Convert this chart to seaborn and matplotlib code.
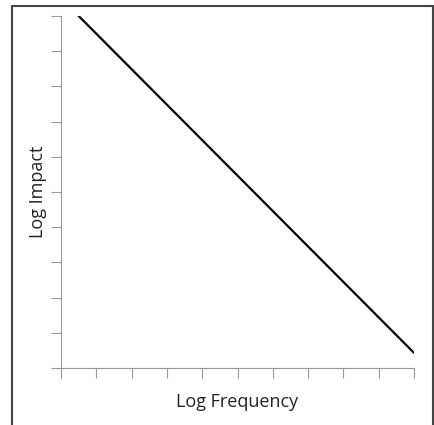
import matplotlib
matplotlib.use("Agg")
import matplotlib.pyplot as plt
import seaborn as sns
from matplotlib.patches import Rectangle

# data: straight line on log-log axes (unlabelled scale 0..10)
log_frequency = [0.5, 10.0]
log_impact = [10.0, 0.43]
tick_positions = list(range(0, 11))

sns.set_theme(style="white")
plt.rcParams['font.family'] = ['Open Sans', 'DejaVu Sans']

fig = plt.figure(figsize=(4.35, 4.25), dpi=100)
ax = fig.add_axes([61 / 435, 1 - 368 / 425, 353 / 435, 352 / 425])

sns.lineplot(x=log_frequency, y=log_impact, ax=ax, color="black", linewidth=1.6)

ax.set_xlim(0, 10)
ax.set_ylim(0, 10)
ax.set_xticks(tick_positions)
ax.set_yticks(tick_positions)
ax.set_xticklabels([])
ax.set_yticklabels([])
ax.tick_params(axis="both", direction="out", length=7, width=0.8, color="#999999",
               bottom=True, left=True)

for side in ["top", "right"]:
    ax.spines[side].set_visible(False)
for side in ["left", "bottom"]:
    ax.spines[side].set_color("#999999")
    ax.spines[side].set_linewidth(0.8)

ax.set_xlabel("Log Frequency", fontsize=13, color="#222222")
ax.set_ylabel("Log Impact", fontsize=13, color="#222222")
ax.xaxis.set_label_coords(0.5, -0.07)
ax.yaxis.set_label_coords(-0.041, 0.5)

# outer frame around the figure
fig.patches.append(Rectangle((12.5 / 435, -0.05), (433.5 - 12.5) / 435, 1.05 - 5.5 / 425,
                             transform=fig.transFigure, fill=False,
                             edgecolor="#444444", linewidth=1.5))

fig.savefig("out.png", dpi=100)
